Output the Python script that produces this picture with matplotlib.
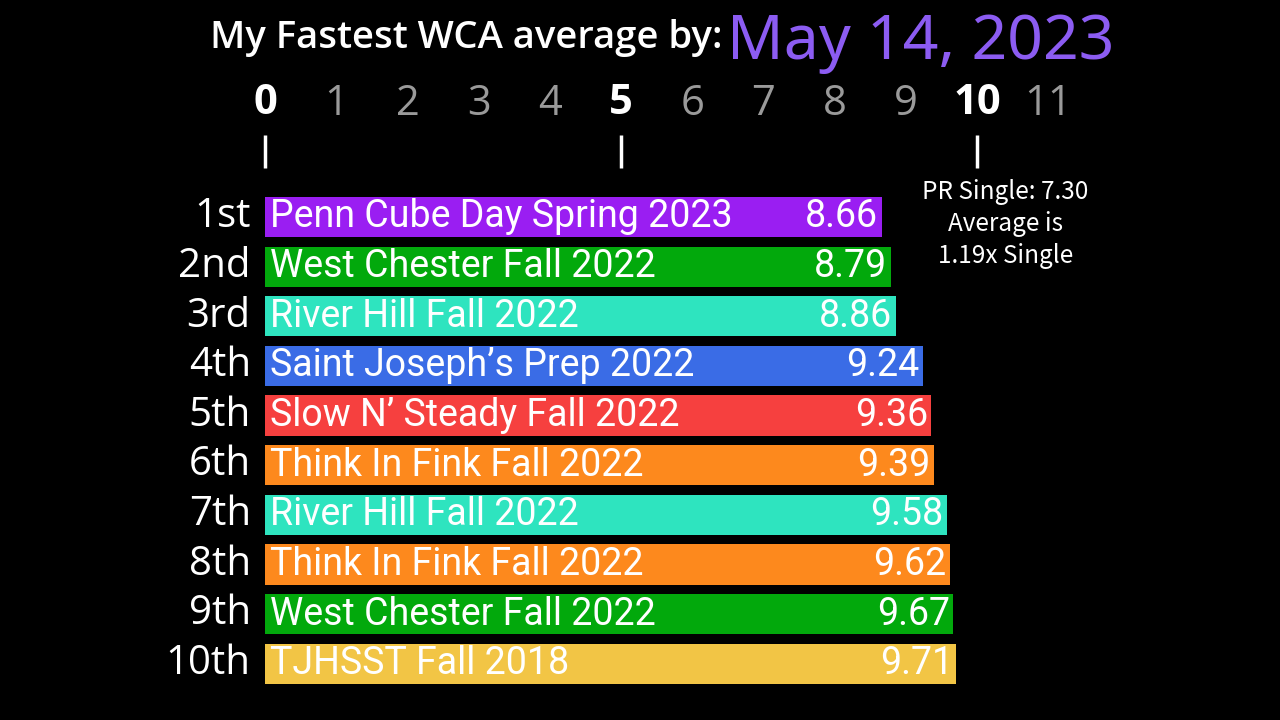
import matplotlib.pyplot as plt

ranks = ['1st', '2nd', '3rd', '4th', '5th', '6th', '7th', '8th', '9th', '10th']
comps = ['Penn Cube Day Spring 2023', 'West Chester Fall 2022', 'River Hill Fall 2022',
         "Saint Joseph\u2019s Prep 2022", "Slow N\u2019 Steady Fall 2022", 'Think In Fink Fall 2022',
         'River Hill Fall 2022', 'Think In Fink Fall 2022', 'West Chester Fall 2022', 'TJHSST Fall 2018']
times = [8.66, 8.79, 8.86, 9.24, 9.36, 9.39, 9.58, 9.62, 9.67, 9.71]
colors = ['#9a1ef2', '#02a90c', '#2ee4bf', '#3a6ce6', '#f6403f', '#fd891d',
          '#2ee4bf', '#fd891d', '#02a90c', '#f2c545']
ticks = list(range(0, 12))
title = 'My Fastest WCA average by:'
date = 'May 14, 2023'
note = 'PR Single: 7.30\nAverage is\n1.19x Single'

fig = plt.figure(figsize=(12.8, 7.2), dpi=100, facecolor='black')
ax = fig.add_axes([0, 0, 1, 1])
ax.set_facecolor('black')
ax.set_xlim(-3.722, 14.256)
ax.set_ylim(10.135, -4.372)
ax.axis('off')

rows = list(range(len(times)))
ax.barh(rows, times, height=0.81, color=colors)

for i in rows:
    ax.text(-0.2, i, ranks[i], color='white', fontsize=29, family='Open Sans',
            ha='right', va='center')
    ax.text(0.07, i, comps[i], color='white', fontsize=27, family='Roboto',
            ha='left', va='center')
    ax.text(times[i] - 0.05, i, f'{times[i]:.2f}', color='white', fontsize=27,
            family='Roboto', ha='right', va='center')

for t in ticks:
    major = t % 5 == 0
    ax.text(t, -2.28, str(t), color='white' if major else '#9a9a9a', fontsize=30,
            family='Open Sans', fontweight='bold' if major else 'normal',
            ha='center', va='center')
    if major:
        ax.vlines(t, -1.65, -0.99, color='white', lw=2.5)

ax.text(6.42, -3.6, title, color='white', fontsize=27.5, family='Open Sans',
        fontweight='semibold', ha='right', va='center')
ax.text(6.49, -3.5, date, color='#8c5cf2', fontsize=45, family='Noto Sans',
        ha='left', va='center')
ax.text(10.4, 0.14, note, color='white', fontsize=17.5, family='Noto Sans CJK JP',
        ha='center', va='center', linespacing=1.3)

fig.savefig('out.png', dpi=100, facecolor='black')
